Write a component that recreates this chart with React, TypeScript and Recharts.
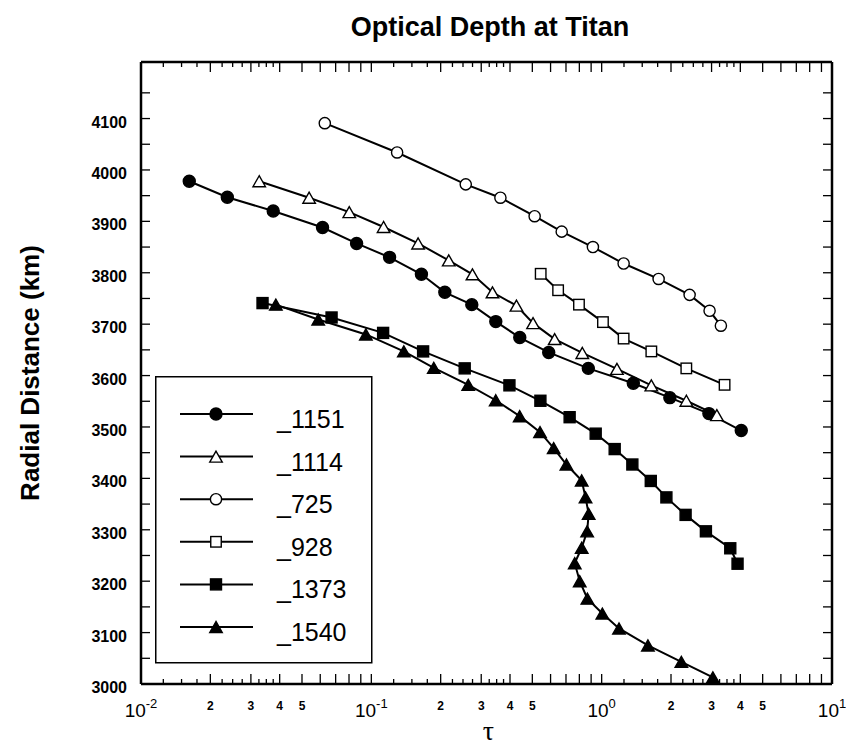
import React from 'react';
import { ScatterChart, Scatter, XAxis, YAxis, Legend, Label } from 'recharts';

// optical depth (tau) and radial distance (km) for each occultation
const tau1151 = [0.0162, 0.0237, 0.0375, 0.0614, 0.0863, 0.12, 0.165, 0.2085, 0.273, 0.347, 0.441, 0.589, 0.875, 1.372, 1.977, 2.921, 4.037];
const r1151 = [3978, 3947, 3920, 3888, 3857, 3830, 3797, 3762, 3738, 3705, 3674, 3645, 3614, 3585, 3557, 3526, 3493];

const tau1114 = [0.0326, 0.0537, 0.0802, 0.113, 0.1596, 0.2168, 0.2748, 0.3357, 0.4266, 0.5036, 0.625, 0.824, 1.165, 1.643, 2.331, 3.163];
const r1114 = [3978, 3946, 3918, 3889, 3857, 3824, 3797, 3762, 3736, 3702, 3671, 3644, 3613, 3581, 3551, 3523];

const tau725 = [0.0628, 0.1294, 0.257, 0.3634, 0.5117, 0.6707, 0.9162, 1.2455, 1.767, 2.409, 2.941, 3.293];
const r725 = [4091, 4034, 3972, 3946, 3910, 3880, 3850, 3818, 3788, 3757, 3726, 3697];

const tau928 = [0.5436, 0.647, 0.797, 1.013, 1.2455, 1.643, 2.331, 3.417];
const r928 = [3798, 3766, 3738, 3704, 3672, 3647, 3614, 3582];

const tau1373 = [0.0337, 0.0672, 0.1125, 0.1678, 0.2543, 0.3977, 0.542, 0.726, 0.942, 1.139, 1.359, 1.634, 1.91, 2.314, 2.835, 3.617, 3.89];
const r1373 = [3741, 3713, 3683, 3647, 3614, 3581, 3551, 3519, 3487, 3457, 3427, 3395, 3363, 3329, 3297, 3264, 3234];

const tau1540 = [0.0385, 0.0588, 0.0947, 0.1384, 0.1867, 0.2635, 0.3467, 0.4406, 0.54, 0.619, 0.703, 0.819, 0.851, 0.878, 0.865, 0.819, 0.764, 0.803, 0.867, 1.007, 1.189, 1.588, 2.218, 3.04];
const r1540 = [3738, 3709, 3680, 3647, 3615, 3582, 3552, 3521, 3490, 3459, 3427, 3396, 3363, 3331, 3297, 3265, 3235, 3200, 3166, 3137, 3108, 3075, 3043, 3013];

// axis ticks
const xDecades = [0.01, 0.1, 1, 10];
const xDecadeExponents = ['-2', '-1', '0', '1'];
const xMajorMultiples = [2, 3, 4, 5, 6, 7, 8, 9];
const xLabelledMultiples = [2, 3, 4, 5];
const xMinorMultiples = [1.25, 1.5, 1.75, 2.25, 2.5, 2.75, 3.25, 3.5, 3.75];
const yTicks = [3000, 3050, 3100, 3150, 3200, 3250, 3300, 3350, 3400, 3450, 3500, 3550, 3600, 3650, 3700, 3750, 3800, 3850, 3900, 3950, 4000, 4050, 4100, 4150];
const yLabels = ['3000', '3100', '3200', '3300', '3400', '3500', '3600', '3700', '3800', '3900', '4000', '4100'];

const FONT = '"Liberation Sans", Arial, Helvetica, sans-serif';

const zip = (t: number[], r: number[]) => t.map((tau, i) => ({ tau, r: r[i] }));

const series = [
  { name: '_1151', data: zip(tau1151, r1151), kind: 'circle', filled: true },
  { name: '_1114', data: zip(tau1114, r1114), kind: 'triangle', filled: false },
  { name: '_725', data: zip(tau725, r725), kind: 'circle', filled: false },
  { name: '_928', data: zip(tau928, r928), kind: 'square', filled: false },
  { name: '_1373', data: zip(tau1373, r1373), kind: 'square', filled: true },
  { name: '_1540', data: zip(tau1540, r1540), kind: 'triangle', filled: true },
];

// tick value -> what to draw
const xTickInfo = new Map<number, { kind: string; label?: string }>();
xDecades.forEach((d, i) => {
  xTickInfo.set(d, { kind: 'decade', label: xDecadeExponents[i] });
  if (i === xDecades.length - 1) return;
  xMajorMultiples.forEach((m) => {
    const v = +(d * m).toPrecision(6);
    xTickInfo.set(v, { kind: 'major', label: xLabelledMultiples.includes(m) ? String(m) : undefined });
  });
  xMinorMultiples.forEach((m) => {
    xTickInfo.set(+(d * m).toPrecision(6), { kind: 'minor' });
  });
});
const xTicks = Array.from(xTickInfo.keys()).sort((a, b) => a - b);

function Marker({ cx, cy, kind, filled }: any) {
  const fill = filled ? '#000' : '#fff';
  if (cx == null || cy == null) return null;
  if (kind === 'circle') {
    return <circle cx={cx} cy={cy} r={filled ? 6 : 5.6} fill={fill} stroke="#000" strokeWidth={1.4} />;
  }
  if (kind === 'square') {
    const s = filled ? 11 : 10.5;
    return <rect x={cx - s / 2} y={cy - s / 2} width={s} height={s} fill={fill} stroke="#000" strokeWidth={1.4} />;
  }
  const w = 12.5;
  const h = 11;
  return (
    <polygon
      points={`${cx},${cy - h / 2} ${cx - w / 2},${cy + h / 2} ${cx + w / 2},${cy + h / 2}`}
      fill={fill}
      stroke="#000"
      strokeWidth={1.4}
    />
  );
}

function XTick({ x, y, payload, side }: any) {
  const info = xTickInfo.get(payload.value) || { kind: 'minor' };
  const len = info.kind === 'minor' ? 5 : 10;
  const dir = side === 'bottom' ? -1 : 1;
  return (
    <g>
      <line x1={x} x2={x} y1={y} y2={y + dir * len} stroke="#000" strokeWidth={1.3} />
      {side === 'bottom' && info.kind === 'decade' && (
        <text x={x} y={y + 33} textAnchor="middle" fontSize={19} fontFamily={FONT} fill="#000">
          10<tspan dy={-9} fontSize={13}>{info.label}</tspan>
        </text>
      )}
      {side === 'bottom' && info.kind === 'major' && info.label && (
        <text x={x} y={y + 26} textAnchor="middle" fontSize={12} fontWeight="bold" fontFamily={FONT} fill="#000">
          {info.label}
        </text>
      )}
    </g>
  );
}

function YTick({ x, y, payload, side }: any) {
  const dir = side === 'left' ? 1 : -1;
  const label = yLabels.includes(String(payload.value)) ? String(payload.value) : null;
  return (
    <g>
      <line x1={x} x2={x + dir * 9} y1={y} y2={y} stroke="#000" strokeWidth={1.3} />
      {side === 'left' && label && (
        <text x={x - 14} y={y + 9} textAnchor="end" fontSize={16} fontWeight="bold" fontFamily={FONT} fill="#000">
          {label}
        </text>
      )}
    </g>
  );
}

function LegendBox() {
  const rowY = (i: number) => 38 + i * 42.6;
  return (
    <svg width={218} height={288} style={{ display: 'block' }}>
      <rect x={0.75} y={0.75} width={216} height={286} fill="#fff" stroke="#000" strokeWidth={1.5} />
      {series.map((s, i) => (
        <g key={s.name}>
          <line x1={25} x2={98} y1={rowY(i)} y2={rowY(i)} stroke="#000" strokeWidth={2} />
          <Marker cx={61} cy={rowY(i)} kind={s.kind} filled={s.filled} />
          <text x={122} y={rowY(i) + 14} fontSize={25} fontFamily={FONT} fill="#000">
            {s.name}
          </text>
        </g>
      ))}
    </svg>
  );
}

export default function App() {
  return (
    <div style={{ position: 'absolute', left: 0, top: 0, width: 846, height: 745, background: '#fff' }}>
      <ScatterChart width={846} height={745} margin={{ top: 52, right: 4, bottom: 0, left: 16 }}>
        <XAxis
          xAxisId="b"
          dataKey="tau"
          type="number"
          scale="log"
          domain={[0.01, 10]}
          ticks={xTicks}
          interval={0}
          tickSize={0}
          tickMargin={0}
          height={61}
          axisLine={{ stroke: '#000', strokeWidth: 2.5 }}
          tick={(p: any) => <XTick {...p} side="bottom" />}
          allowDataOverflow
        >
          <Label
            content={({ viewBox }: any) => (
              <text x={viewBox.x + viewBox.width / 2 + 2} y={viewBox.y + 56} textAnchor="middle" fontSize={28} fontFamily='"Liberation Serif", "Times New Roman", serif' fill="#000">
                τ
              </text>
            )}
          />
        </XAxis>
        <XAxis
          xAxisId="t"
          orientation="top"
          dataKey="tau"
          type="number"
          scale="log"
          domain={[0.01, 10]}
          ticks={xTicks}
          interval={0}
          tickSize={0}
          tickMargin={0}
          height={10}
          axisLine={{ stroke: '#000', strokeWidth: 2.5 }}
          tick={(p: any) => <XTick {...p} side="top" />}
          allowDataOverflow
        />
        <YAxis
          yAxisId="l"
          dataKey="r"
          type="number"
          domain={[3000, 4210]}
          ticks={yTicks}
          interval={0}
          tickSize={0}
          tickMargin={0}
          width={125}
          axisLine={{ stroke: '#000', strokeWidth: 2.5 }}
          tick={(p: any) => <YTick {...p} side="left" />}
          allowDataOverflow
        >
          <Label
            content={({ viewBox }: any) => {
              const cx = viewBox.x + 14;
              const cy = viewBox.y + viewBox.height / 2;
              return (
                <text x={cx} y={cy} transform={`rotate(-90 ${cx} ${cy})`} textAnchor="middle" dominantBaseline="central" fontSize={26} fontWeight="bold" fontFamily={FONT} fill="#000">
                  Radial Distance (km)
                </text>
              );
            }}
          />
        </YAxis>
        <YAxis
          yAxisId="r"
          orientation="right"
          dataKey="r"
          type="number"
          domain={[3000, 4210]}
          ticks={yTicks}
          interval={0}
          tickSize={0}
          tickMargin={0}
          width={10}
          axisLine={{ stroke: '#000', strokeWidth: 2.5 }}
          tick={(p: any) => <YTick {...p} side="right" />}
          allowDataOverflow
        />
        {series.map((s) => (
          <Scatter
            key={s.name}
            name={s.name}
            data={s.data}
            xAxisId="b"
            yAxisId="l"
            line={{ stroke: '#000', strokeWidth: 2 }}
            lineType="joint"
            shape={(p: any) => <Marker cx={p.cx} cy={p.cy} kind={s.kind} filled={s.filled} />}
            isAnimationActive={false}
          />
        ))}
        <Legend
          layout="vertical"
          align="center"
          verticalAlign="middle"
          wrapperStyle={{ left: 155, top: 376, width: 218, height: 288 }}
          content={() => <LegendBox />}
        />
      </ScatterChart>
      <svg width={846} height={60} style={{ position: 'absolute', left: 0, top: 0, pointerEvents: 'none' }}>
        <text x={490} y={36} textAnchor="middle" fontSize={27} fontWeight="bold" fontFamily={FONT} fill="#000">
          Optical Depth at Titan
        </text>
      </svg>
    </div>
  );
}
